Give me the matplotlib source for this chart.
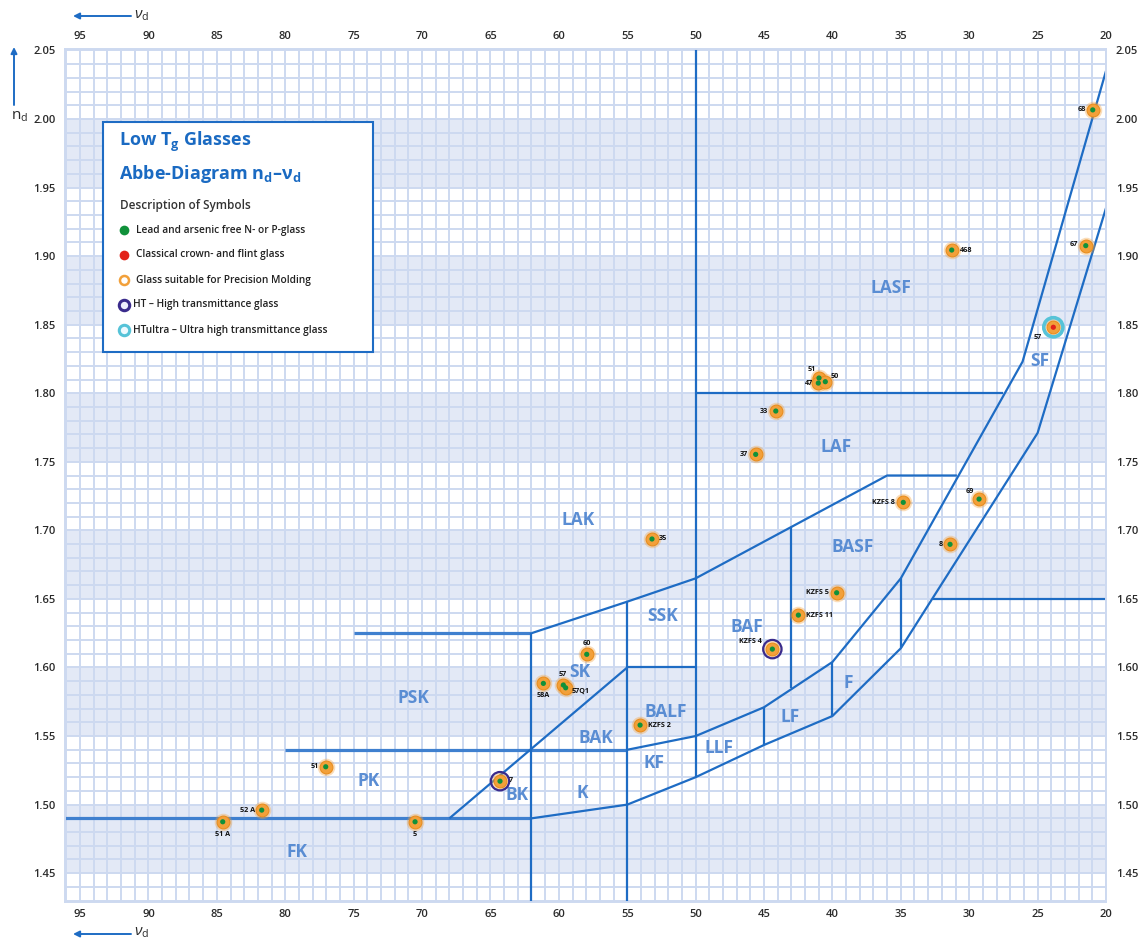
import matplotlib
matplotlib.use("Agg")
import matplotlib.pyplot as plt
from matplotlib.patches import Rectangle
from matplotlib.ticker import MultipleLocator

plt.rcParams["font.family"] = ["Open Sans", "DejaVu Sans"]
plt.rcParams["mathtext.fontset"] = "custom"
plt.rcParams["mathtext.rm"] = "Open Sans"
plt.rcParams["mathtext.it"] = "Open Sans:italic"
plt.rcParams["mathtext.bf"] = "Open Sans:bold"

# ---------------------------------------------------------------- data
x_ticks = [95, 90, 85, 80, 75, 70, 65, 60, 55, 50, 45, 40, 35, 30, 25, 20]
y_ticks = [1.45, 1.50, 1.55, 1.60, 1.65, 1.70, 1.75, 1.80, 1.85, 1.90, 1.95, 2.00, 2.05]
band_lo = [1.45, 1.55, 1.65, 1.75, 1.85, 1.95]
band_hi = [1.50, 1.60, 1.70, 1.80, 1.90, 2.00]

# glass-family boundaries, (vd, nd) vertices
fk_top = [(97, 1.49), (62, 1.49)]
lower_edge = [(62, 1.49), (55, 1.50), (50, 1.52), (45, 1.5435), (40, 1.5646),
              (35, 1.614), (25.0, 1.771), (20, 1.935)]
bk_edge = [(68, 1.49), (55, 1.60)]
bak_bottom = [(80, 1.54), (55, 1.54)]
flint_top = [(55, 1.54), (50, 1.55), (45, 1.571), (40, 1.604), (35, 1.665),
             (26.1, 1.823), (20, 2.035)]
psk_top = [(75, 1.625), (62, 1.625)]
lak_bottom = [(62, 1.625), (55, 1.648), (50, 1.665), (36, 1.74), (30.9, 1.74)]
laf_top = [(50, 1.80), (27.5, 1.80)]
sf_split = [(32.65, 1.65), (20, 1.65)]
balf_top = [(55, 1.60), (50, 1.60)]
v62 = [(62, 1.625), (62, 1.40)]
v55 = [(55, 1.648), (55, 1.40)]
v50 = [(50, 2.10), (50, 1.52)]
v45 = [(45, 1.571), (45, 1.5435)]
v43 = [(43, 1.7028), (43, 1.585)]
v40 = [(40, 1.604), (40, 1.5646)]
v35 = [(35, 1.665), (35, 1.614)]
heavy_boundaries = [fk_top, bak_bottom, psk_top]
boundaries = [lower_edge, bk_edge, flint_top, lak_bottom, laf_top, sf_split, balf_top,
              v62, v55, v50, v45, v43, v40, v35]

region_names = ["LASF", "SF", "LAF", "LAK", "BASF", "SSK", "BAF", "SK", "PSK",
                "BALF", "BAK", "LF", "F", "LLF", "KF", "PK", "BK", "K", "FK"]
region_vd = [35.72, 24.82, 39.74, 58.6, 38.49, 52.38, 46.24, 58.45, 70.66,
             52.16, 57.28, 43.1, 38.86, 48.29, 53.04, 73.87, 63.05, 58.3, 79.15]
region_nd = [1.8767, 1.8235, 1.7605, 1.7075, 1.6878, 1.6375, 1.6295, 1.5966, 1.5777,
             1.5675, 1.5485, 1.5640, 1.5886, 1.5412, 1.5303, 1.5174, 1.5069, 1.5083, 1.4654]

glass_names = ["68", "67", "468", "57", "51", "47", "50", "33", "37", "KZFS 8",
               "69", "8", "35", "KZFS 5", "KZFS 11", "KZFS 4", "KZFS 2", "60",
               "58A", "57", "57Q1", "7", "5", "51", "52 A", "51 A"]
glass_vd = [20.97, 21.48, 31.28, 23.85, 40.98, 41.03, 40.52, 44.14, 45.61, 34.82,
            29.28, 31.40, 53.19, 39.69, 42.49, 44.39, 54.06, 57.96,
            61.13, 59.67, 59.50, 64.30, 70.51, 77.04, 81.72, 84.57]
glass_nd = [2.0066, 1.9076, 1.9044, 1.8481, 1.8111, 1.8074, 1.8084, 1.7870, 1.7554, 1.7204,
            1.7228, 1.6898, 1.6937, 1.6545, 1.6382, 1.6134, 1.5580, 1.6096,
            1.5884, 1.5872, 1.5852, 1.5171, 1.4875, 1.5276, 1.4960, 1.4875]
# "N": lead/arsenic free N- or P-glass, "C": classical glass
glass_type = ["N"] * 3 + ["C"] + ["N"] * 22
# transmittance grade: "", "HT", "HTultra"
glass_grade = ["", "", "", "HTultra", "", "", "", "", "", "",
               "", "", "", "", "", "HT", "", "",
               "", "", "", "HT", "", "", "", ""]

# label placement for each glass: (dx px, dy px, horizontal alignment)
label_place = [(-7, 0, "right"), (-8, -1, "right"), (8, 0, "left"), (-16, 10, "center"),
               (-7, -8, "center"), (-5, 0, "right"), (5, -5, "left"), (-8, 0, "right"),
               (-8, 0, "right"), (-8, 0, "right"), (-9, -8, "center"), (-7, 0, "right"),
               (7, 0, "left"), (-8, 0, "right"), (8, 0, "left"), (-10, -8, "right"),
               (8, 0, "left"), (0, -11, "center"), (0, 12, "center"), (-1, -11, "center"),
               (6, 4, "left"), (9, -1, "left"), (0, 13, "center"), (-7, 0, "right"),
               (-7, 0, "right"), (0, 13, "center")]

legend_labels = ["Lead and arsenic free N- or P-glass",
                 "Classical crown- and flint glass",
                 "Glass suitable for Precision Molding",
                 "HT \u2013 High transmittance glass",
                 "HTultra \u2013 Ultra high transmittance glass"]

# ---------------------------------------------------------------- style
LINE = "#1e6cc4"
LINE_H = "#3f80cf"
GRID = "#cdd9f0"
BAND = "#e3e9f6"
REGION = "#5a8dd3"
ORANGE = "#f2a03a"
GREEN = "#10913a"
RED = "#e2231a"
PURPLE = "#3a2b8c"
CYAN = "#56c3d8"
TICK = "#2a2a2a"

W, H = 1143, 941
fig = plt.figure(figsize=(W / 100, H / 100), dpi=100)
ax = fig.add_axes([65 / W, 1 - 902 / H, (1106 - 65) / W, (902 - 49) / H])
ax.set_xlim(96.1, 20)
ax.set_ylim(1.429, 2.051)


def fpos(px, py):
    """Pixel position (from the top-left corner) to figure fraction."""
    return px / W, 1 - py / H


# background bands and fine grid
for lo, hi in zip(band_lo, band_hi):
    ax.axhspan(lo, hi, color=BAND, zorder=0, lw=0)
ax.xaxis.set_minor_locator(MultipleLocator(1))
ax.yaxis.set_minor_locator(MultipleLocator(0.01))
ax.grid(which="both", color=GRID, lw=1.4, zorder=0.5)
ax.set_axisbelow(True)
for sp in ax.spines.values():
    sp.set_color(GRID)
    sp.set_linewidth(1.4)

ax.set_xticks(x_ticks)
ax.set_xticklabels([str(v) for v in x_ticks])
ax.set_yticks(y_ticks)
ax.set_yticklabels([f"{v:.2f}" for v in y_ticks])
ax.tick_params(which="both", length=0, labelsize=8, labelcolor=TICK,
               top=True, labeltop=True, bottom=True, labelbottom=True,
               left=True, labelleft=True, right=True, labelright=True)
for lab in ax.get_xticklabels() + ax.get_yticklabels():
    lab.set_fontweight("semibold")
ax.tick_params(axis="x", pad=5)
ax.tick_params(axis="y", pad=7)

# family boundaries
for poly in heavy_boundaries:
    xs, ys = zip(*poly)
    ax.plot(xs, ys, color=LINE_H, lw=2.3, zorder=2, solid_capstyle="butt")
for poly in boundaries:
    xs, ys = zip(*poly)
    ax.plot(xs, ys, color=LINE, lw=1.6, zorder=2, solid_capstyle="butt")

# family names
for name, x, y in zip(region_names, region_vd, region_nd):
    ax.text(x, y, name, color=REGION, fontsize=12.5, fontweight="bold",
            ha="center", va="center", zorder=3)

# glass markers
centers = [GREEN if t == "N" else RED for t in glass_type]
ax.scatter(glass_vd, glass_nd, s=160, color=ORANGE, alpha=0.35, lw=0, zorder=4)
ax.scatter(glass_vd, glass_nd, s=85, color=ORANGE, edgecolor="#ea8e1e", lw=0.8, zorder=4)
ax.scatter(glass_vd, glass_nd, s=14, color=centers, lw=0, zorder=5)
ht_x = [x for x, g in zip(glass_vd, glass_grade) if g == "HT"]
ht_y = [y for y, g in zip(glass_nd, glass_grade) if g == "HT"]
ax.scatter(ht_x, ht_y, s=175, facecolor="none", edgecolor=PURPLE, lw=1.6, zorder=5)
hu_x = [x for x, g in zip(glass_vd, glass_grade) if g == "HTultra"]
hu_y = [y for y, g in zip(glass_nd, glass_grade) if g == "HTultra"]
ax.scatter(hu_x, hu_y, s=190, facecolor="none", edgecolor=CYAN, lw=2.6, zorder=5)

for name, x, y, (dx, dy, ha) in zip(glass_names, glass_vd, glass_nd, label_place):
    ax.annotate(name, (x, y), xytext=(dx * 0.72, -dy * 0.72), textcoords="offset points",
                fontsize=5.2, fontweight="bold", color="#111111", ha=ha, va="center",
                zorder=6)

# axis direction arrows
arrow = dict(arrowstyle="-|>", color=LINE, lw=1.4, mutation_scale=9, shrinkA=0, shrinkB=0)
for py in (16, 934):
    ax.annotate("", xy=fpos(73, py), xytext=fpos(131, py), xycoords="figure fraction",
                textcoords="figure fraction", arrowprops=arrow)
    fig.text(*fpos(134, py - 1), r"$\nu_\mathrm{d}$", fontsize=11, color=TICK,
             ha="left", va="center")
ax.annotate("", xy=fpos(14, 47), xytext=fpos(14, 105), xycoords="figure fraction",
            textcoords="figure fraction", arrowprops=arrow)
fig.text(*fpos(11, 116), r"$\mathrm{n_d}$", fontsize=11, color=TICK, ha="left", va="center")

# legend panel
box = Rectangle(fpos(103, 352), 270 / W, 230 / H, transform=fig.transFigure,
                facecolor="white", edgecolor=LINE, lw=1.5, zorder=7)
ax.add_patch(box)
fig.text(*fpos(119, 142), r"Low T$_\mathbf{g}$ Glasses", fontsize=13, fontweight="bold",
         color="#1a6ac2", ha="left", va="center", zorder=8)
fig.text(*fpos(119, 174), r"Abbe-Diagram $\mathbf{n_d}$–$\mathbf{ν_d}$", fontsize=13,
         fontweight="bold", color="#1a6ac2", ha="left", va="center", zorder=8)
fig.text(*fpos(120, 206), "Description of Symbols", fontsize=8.5, fontweight="semibold",
         color="#333333", ha="left", va="center", zorder=8)

legend_rows = [230, 255, 280, 305, 330]
legend_style = [
    dict(marker="o", ms=7, color=GREEN, mec=GREEN, mew=0),
    dict(marker="o", ms=7, color=RED, mec=RED, mew=0),
    dict(marker="o", ms=6.5, mfc="white", mec=ORANGE, mew=1.8),
    dict(marker="o", ms=7.5, mfc="#eeeeff", mec=PURPLE, mew=2.2),
    dict(marker="o", ms=7.5, mfc="#eefaff", mec=CYAN, mew=2.2),
]
legend_text_x = [136, 136, 136, 133, 133]
for py, text, st, tx in zip(legend_rows, legend_labels, legend_style, legend_text_x):
    ax.plot(*fpos(124, py), transform=fig.transFigure, clip_on=False, zorder=8,
            linestyle="none", **st)
    fig.text(*fpos(tx, py), text, fontsize=7.3, fontweight="semibold", color="#222222",
             ha="left", va="center", zorder=8)

fig.savefig("out.png", dpi=100)
